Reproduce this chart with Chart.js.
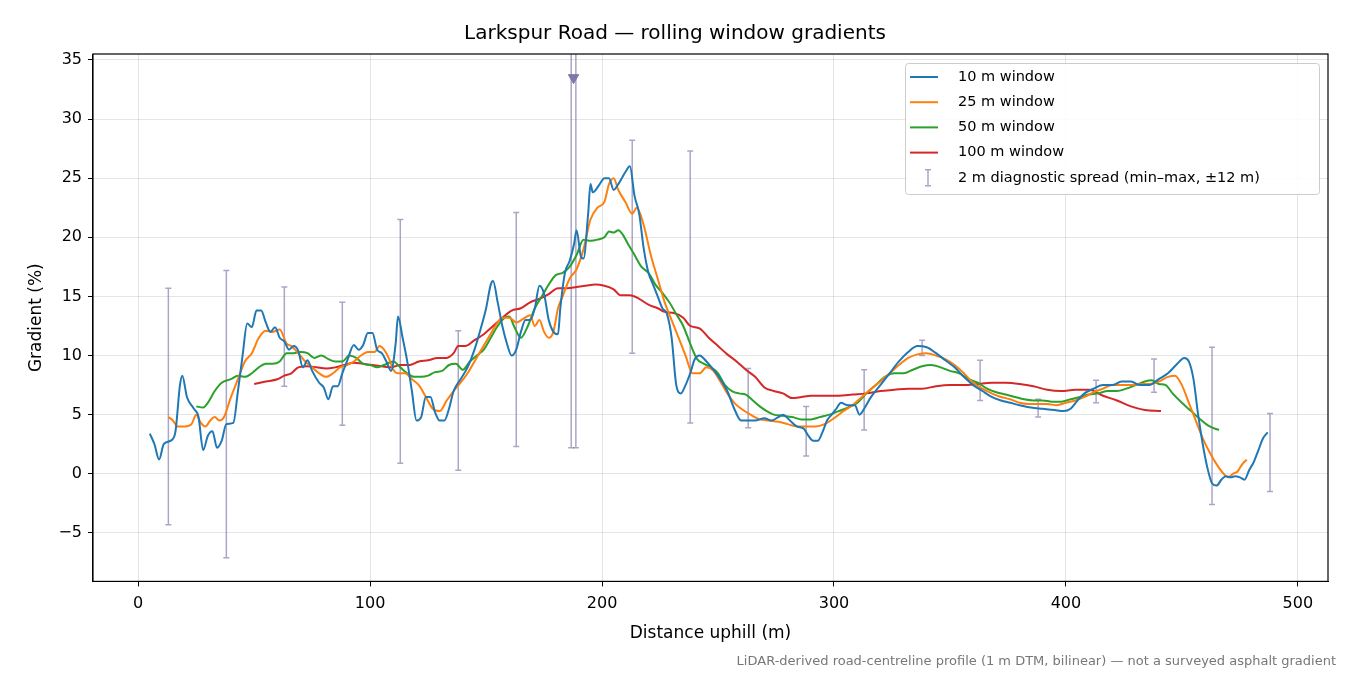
<!DOCTYPE html>
<html><head><meta charset="utf-8">
<script src="https://cdn.jsdelivr.net/npm/chart.js@4/dist/chart.umd.min.js"></script>
<style>html,body{margin:0;padding:0;background:#fff}#w{width:1350px;height:675px;position:relative}</style>
</head><body><div id="w"><canvas id="c"></canvas></div>
<script>
const w10 = [[5,3.4],[7,2.5],[9,1.2],[11,2.5],[14,2.8],[16,3.5],[18,7.5],[19,8.3],[21,6.5],[24,5.5],[26,4.8],[28,2.0],[30,3.2],[32,3.6],[34,2.2],[36,2.8],[38,4.2],[41,4.3],[43,7],[45,10],[47,12.7],[49,12.4],[51,13.8],[53,13.8],[55,12.8],[57,12],[59,12.4],[61,11.5],[63,11.2],[65,10.5],[67,10.8],[69,10.4],[71,9],[73,9.6],[75,8.7],[78,7.7],[80,7.3],[82,6.3],[84,7.4],[86,7.4],[88,8.5],[90,9.5],[93,10.9],[95,10.5],[97,10.9],[99,11.9],[101,11.9],[103,10.5],[105,10.2],[107,9.5],[109,8.7],[111,11],[112,13.3],[114,11.5],[116,9.5],[118,7],[120,4.5],[122,4.8],[124,6.5],[126,6.5],[128,5.2],[130,4.5],[132,4.5],[134,5.5],[136,7],[139,8],[142,9],[145,10.5],[148,12.5],[150,14],[152,16],[153,16.3],[155,14.5],[157,12.5],[159,11],[161,10],[163,10.5],[165,12],[167,13],[169,13],[171,14],[173,15.9],[175,15.2],[177,13],[179,12],[181,11.8],[182,14],[184,17],[186,18],[188,19.5],[189,20.6],[191,18.3],[192,18.2],[194,22],[195,24.5],[196,23.8],[199,24.5],[201,25],[203,25],[205,24],[207,24.5],[210,25.5],[212,26],[214,23.5],[216,22],[218,19],[220,17],[222,16],[224,15],[226,14],[228,13.5],[230,11.5],[232,7.5],[234,6.8],[236,7.5],[238,8.5],[240,9.7],[242,10],[245,9.5],[248,8.8],[251,8],[254,7],[257,5.5],[260,4.5],[263,4.5],[266,4.5],[270,4.7],[273,4.5],[276,4.8],[278,5],[281,4.5],[284,4],[287,3.8],[289,3.2],[291,2.8],[293,2.8],[295,3.5],[297,4.5],[299,5],[301,5.5],[303,6],[306,5.8],[309,5.8],[311,5],[313,5.5],[316,6.5],[320,7.5],[324,8.5],[328,9.5],[332,10.3],[336,10.8],[340,10.7],[344,10.2],[348,9.6],[352,9],[356,8.2],[360,7.5],[364,7],[368,6.5],[372,6.2],[376,6],[380,5.8],[385,5.6],[390,5.5],[395,5.4],[399,5.3],[402,5.5],[405,6.2],[408,6.8],[412,7.2],[416,7.5],[420,7.5],[424,7.8],[428,7.8],[432,7.5],[436,7.5],[440,8],[444,8.5],[448,9.3],[451,9.8],[453,9.5],[455,8],[457,5],[459,2.5],[461,0.5],[463,-0.8],[465,-1],[467,-0.5],[469,-0.2],[471,-0.3],[473,-0.2],[475,-0.3],[477,-0.5],[479,0.3],[481,1],[483,2],[485,3],[487,3.5]];
const w25 = [[13,4.8],[15,4.5],[17,4],[20,4],[23,4.2],[25,5],[27,4.3],[29,4.0],[31,4.5],[33,4.8],[35,4.5],[37,4.8],[40,6.5],[43,8],[46,9.5],[49,10.2],[52,11.5],[55,12.1],[58,12],[61,12.2],[64,11],[66,10.8],[69,10.2],[72,9.5],[75,9],[78,8.5],[81,8.2],[84,8.5],[87,9],[90,9.2],[93,9.5],[96,10],[99,10.3],[102,10.3],[104,10.8],[106,10.5],[108,9.8],[110,8.8],[112,8.5],[115,8.5],[118,8],[121,7.5],[124,6.5],[127,5.5],[130,5.3],[133,6.2],[136,7],[139,7.7],[142,8.5],[145,9.5],[148,10.5],[151,11.5],[154,12.5],[157,13.2],[160,13.2],[163,12.8],[166,13.1],[169,13.4],[171,12.5],[173,13],[175,12],[177,11.5],[179,12],[181,14],[183,15],[186,16.5],[189,17.3],[192,19],[195,21.5],[198,22.5],[201,23],[203,24.5],[205,25],[207,24],[210,23],[213,22],[215,22.5],[218,21],[221,18.5],[224,16.5],[227,14.5],[230,13],[233,11.5],[236,10],[239,8.5],[242,8.5],[245,9],[248,8.7],[251,7.8],[254,6.8],[257,6],[260,5.5],[264,5],[268,4.6],[272,4.5],[276,4.4],[280,4.2],[284,4.0],[288,4],[292,4],[296,4.2],[300,4.7],[304,5.3],[308,5.8],[312,6.5],[316,7.2],[320,7.8],[324,8.5],[328,9.2],[332,9.8],[336,10.1],[340,10.2],[344,10],[348,9.7],[352,9.2],[356,8.5],[360,7.7],[364,7.2],[368,6.8],[372,6.5],[376,6.3],[380,6],[384,5.9],[388,5.9],[392,5.9],[396,5.8],[400,6],[404,6.2],[408,6.5],[412,6.9],[416,7.2],[420,7.5],[424,7.5],[428,7.5],[432,7.6],[436,7.6],[440,7.8],[444,8.2],[447,8.3],[450,7.5],[453,6],[456,4.5],[459,3],[462,1.8],[465,0.8],[468,0],[470,-0.3],[472,0],[474,0.2],[476,0.8],[478,1.2]];
const w50 = [[25,5.7],[28,5.6],[30,6],[33,7],[36,7.7],[40,8],[43,8.3],[46,8.2],[49,8.5],[52,9],[55,9.3],[58,9.3],[61,9.5],[64,10.2],[67,10.2],[70,10.3],[73,10.2],[76,9.8],[79,10],[82,9.7],[85,9.5],[88,9.5],[91,10],[94,9.8],[97,9.3],[100,9.2],[103,9],[106,9.2],[110,9.5],[113,9],[116,8.5],[119,8.2],[122,8.2],[125,8.3],[128,8.6],[131,8.7],[134,9.2],[137,9.3],[140,8.8],[143,9.5],[146,10],[149,10.5],[152,11.5],[155,12.5],[158,13.2],[160,13.3],[162,12.5],[165,11.5],[168,12.5],[171,14],[174,15],[177,16],[180,16.8],[183,17],[186,17.5],[189,18.5],[192,19.8],[195,19.7],[198,19.8],[201,20],[203,20.5],[205,20.4],[207,20.6],[209,20.2],[211,19.5],[214,18.5],[217,17.5],[220,17],[223,16],[226,15.3],[229,14.5],[232,13.5],[235,12.5],[238,11],[241,9.7],[244,9.3],[247,9],[250,8.5],[253,7.5],[256,7],[259,6.8],[262,6.7],[265,6.2],[268,5.7],[271,5.3],[274,5],[278,4.9],[282,4.8],[286,4.6],[290,4.6],[294,4.8],[298,5],[302,5.3],[306,5.6],[310,6],[314,6.8],[318,7.5],[322,8.2],[326,8.5],[330,8.5],[334,8.8],[338,9.1],[342,9.2],[346,9],[350,8.7],[354,8.5],[358,8],[362,7.7],[366,7.2],[370,6.9],[374,6.7],[378,6.5],[382,6.3],[386,6.2],[390,6.2],[394,6.1],[398,6.1],[402,6.3],[406,6.5],[410,6.7],[414,6.8],[418,7],[422,7],[426,7.2],[430,7.5],[434,7.8],[437,7.9],[440,7.6],[443,7.5],[446,6.8],[450,6],[454,5.3],[458,4.6],[462,4],[466,3.7]];
const w100 = [[50,7.6],[55,7.8],[60,8],[63,8.3],[66,8.5],[69,9],[73,9.1],[77,9],[81,8.9],[85,9],[89,9.2],[93,9.4],[97,9.3],[101,9.2],[105,9.1],[109,9.0],[113,9.2],[117,9.2],[121,9.5],[125,9.6],[129,9.8],[133,9.8],[136,10.2],[138,10.8],[141,10.8],[145,11.3],[149,11.8],[153,12.5],[157,13.2],[161,13.8],[165,14],[169,14.5],[173,14.8],[177,15.2],[181,15.7],[185,15.7],[189,15.8],[193,15.9],[197,16],[201,15.9],[205,15.6],[208,15.1],[212,15.1],[216,14.8],[220,14.3],[224,14],[227,13.7],[231,13.6],[235,13.2],[238,12.5],[242,12.3],[246,11.5],[250,10.8],[254,10.1],[258,9.5],[262,8.8],[266,8.2],[270,7.3],[274,7],[278,6.8],[282,6.4],[286,6.5],[290,6.6],[296,6.6],[302,6.6],[308,6.7],[314,6.8],[320,7],[326,7.1],[332,7.2],[338,7.2],[344,7.4],[350,7.5],[356,7.5],[362,7.6],[368,7.7],[374,7.7],[380,7.6],[386,7.4],[392,7.1],[398,7],[404,7.1],[410,7.1],[416,6.6],[422,6.2],[428,5.7],[434,5.4],[441,5.3]];
const errX = [13,38,63,88,113,138,163,186.7,188.7,213,238,263,288,313,338,363,388,413,438,463,488];
const errLo = [-4.3,-7.1,7.4,4.1,0.9,0.3,2.3,2.2,2.2,10.2,4.3,3.9,1.5,3.7,10.0,6.2,4.8,6.0,6.9,-2.6,-1.5];
const errHi = [15.7,17.2,15.8,14.5,21.5,12.1,22.1,60,60,28.2,27.3,8.9,5.7,8.8,11.3,9.6,6.3,7.9,9.7,10.7,5.1];
const clipMarker = [[187.7,33.5]];
const xTicks = [0,100,200,300,400,500];
const yTicks = [-5,0,5,10,15,20,25,30,35];
const seriesNames = ['10 m window','25 m window','50 m window','100 m window'];
const errName = '2 m diagnostic spread (min\u2013max, \u00b112 m)';

const colors = ['#1f77b4','#ff7f0e','#2ca02c','#d62728'];
const errColor = 'rgba(128,118,168,0.65)';
const toPts = a => a.map(p => ({x:p[0], y:p[1]}));
const FONT = 'DejaVu Sans';

const errPlugin = {
  id:'err',
  beforeDatasetsDraw(ch){
    const {ctx, scales:{x,y}, chartArea:a} = ch;
    ctx.save();
    ctx.beginPath(); ctx.rect(a.left,a.top,a.right-a.left,a.bottom-a.top); ctx.clip();
    ctx.strokeStyle = errColor; ctx.lineWidth = 1.5;
    errX.forEach((xv,i)=>{
      const px = x.getPixelForValue(xv), p1 = y.getPixelForValue(errLo[i]), p2 = y.getPixelForValue(errHi[i]);
      ctx.beginPath(); ctx.moveTo(px,p1); ctx.lineTo(px,p2);
      ctx.moveTo(px-3,p1); ctx.lineTo(px+3,p1);
      ctx.moveTo(px-3,p2); ctx.lineTo(px+3,p2); ctx.stroke();
    });
    ctx.restore();
  },
  afterDraw(ch){
    const {ctx, chartArea:a} = ch;
    ctx.save();
    const lx = 905, ly = 63, lw = 414, lh = 131;
    ctx.fillStyle='rgba(255,255,255,0.85)'; ctx.strokeStyle='#cccccc'; ctx.lineWidth=1;
    ctx.beginPath(); ctx.roundRect(lx+0.5,ly+0.5,lw,lh,3); ctx.fill(); ctx.stroke();
    ctx.font = '14.5px '+FONT; ctx.textBaseline='middle'; ctx.fillStyle='#000';
    seriesNames.forEach((n,i)=>{
      const yy = ly+14+i*25.2;
      ctx.strokeStyle=colors[i]; ctx.lineWidth=2; ctx.beginPath(); ctx.moveTo(lx+5,yy); ctx.lineTo(lx+33,yy); ctx.stroke();
      ctx.fillText(n, lx+53, yy);
    });
    const ye = ly+14+4*25.2;
    ctx.strokeStyle=errColor; ctx.lineWidth=1.5; ctx.beginPath();
    ctx.moveTo(lx+23,ye-8); ctx.lineTo(lx+23,ye+8); ctx.moveTo(lx+20,ye-8); ctx.lineTo(lx+26,ye-8); ctx.moveTo(lx+20,ye+8); ctx.lineTo(lx+26,ye+8); ctx.stroke();
    ctx.fillText(errName, lx+53, ye);
    ctx.strokeStyle='#000'; ctx.lineWidth=1.2; ctx.strokeRect(a.left,a.top,a.right-a.left,a.bottom-a.top);
    ctx.font='13px '+FONT; ctx.fillStyle='#777'; ctx.textAlign='right'; ctx.textBaseline='alphabetic';
    ctx.fillText('LiDAR-derived road-centreline profile (1 m DTM, bilinear) \u2014 not a surveyed asphalt gradient', 1336, 665);
    ctx.restore();
  }
};

const ds = [w10,w25,w50,w100].map((d,i)=>({type:'line', label:seriesNames[i], data:toPts(d), borderColor:colors[i], backgroundColor:colors[i], borderWidth:2, pointRadius:0, tension:0.35, cubicInterpolationMode:'monotone'}));
ds.push({type:'scatter', data:toPts(clipMarker), pointStyle:'triangle', rotation:180, pointRadius:6, backgroundColor:'#8076a8', borderColor:'#8076a8'});

new Chart(document.getElementById('c'), {
  data:{datasets:ds},
  options:{
    responsive:true, maintainAspectRatio:false, animation:false,
    layout:{padding:{left:22,right:22,top:8,bottom:27}},
    plugins:{legend:{display:false}, tooltip:{enabled:false},
      title:{display:true, text:'Larkspur Road \u2014 rolling window gradients', color:'#000', font:{family:FONT,size:20,weight:'normal'}, padding:{top:14,bottom:8}}},
    scales:{
      x:{type:'linear', min:-19.5, max:513,
        afterBuildTicks:s=>{s.ticks=xTicks.map(v=>({value:v}));},
        grid:{color:'rgba(0,0,0,0.1)', drawTicks:true, tickColor:'#000', tickLength:5},
        border:{color:'#000'},
        ticks:{color:'#000', font:{family:FONT,size:16}, padding:8},
        title:{display:true, text:'Distance uphill (m)', color:'#000', font:{family:FONT,size:17}, padding:{top:2}}},
      y:{type:'linear', min:-9.1, max:35.5,
        afterBuildTicks:s=>{s.ticks=yTicks.map(v=>({value:v}));},
        grid:{color:'rgba(0,0,0,0.1)', tickColor:'#000', tickLength:5},
        border:{color:'#000'},
        ticks:{color:'#000', font:{family:FONT,size:16}, padding:6, callback:v=>v<0?'\u2212'+Math.abs(v):v},
        title:{display:true, text:'Gradient (%)', color:'#000', font:{family:FONT,size:17}, padding:{bottom:6}}}
    }
  },
  plugins:[errPlugin]
});
</script></body></html>
